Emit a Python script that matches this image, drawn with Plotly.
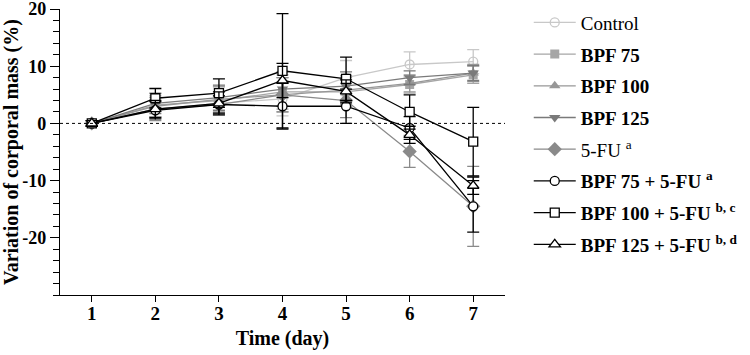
import plotly.graph_objects as go

days = [1, 2, 3, 4, 5, 6, 7]

series_names = [
    "Control",
    "<b>BPF 75</b>",
    "<b>BPF 100</b>",
    "<b>BPF 125</b>",
    "5-FU <sup>a</sup>",
    "<b>BPF 75 + 5-FU <sup>a</sup></b>",
    "<b>BPF 100 + 5-FU <sup>b, c</sup></b>",
    "<b>BPF 125 + 5-FU <sup>b, d</sup></b>",
]

control = [0, 2.5, 3.5, 4.3, 8.0, 10.3, 10.8]
control_err = [0.5, 1.5, 2.0, 3.0, 3.0, 2.2, 2.1]
bpf75 = [0, 3.2, 4.0, 5.5, 5.5, 6.8, 8.5]
bpf75_err = [0.5, 2.0, 2.5, 3.0, 2.5, 1.5, 1.5]
bpf100 = [0, 3.0, 4.2, 5.0, 5.8, 7.0, 8.8]
bpf100_err = [0.5, 1.8, 2.2, 3.0, 2.5, 1.5, 1.5]
bpf125 = [0, 3.5, 4.5, 6.0, 6.5, 8.0, 8.8]
bpf125_err = [0.5, 1.8, 2.2, 3.0, 2.5, 1.2, 1.3]
fu5 = [0, 2.5, 3.3, 5.0, 4.0, -4.9, -14.5]
fu5_err = [0.5, 2.0, 1.5, 3.0, 3.0, 2.8, 7.0]
bpf75_fu = [0, 2.3, 3.3, 3.0, 3.0, -0.8, -14.5]
bpf75_fu_err = [0.5, 1.5, 1.5, 4.0, 3.0, 2.0, 4.5]
bpf100_fu = [0, 4.4, 5.3, 9.2, 7.8, 2.0, -3.2]
bpf100_fu_err = [0.5, 1.7, 2.5, 10.0, 3.8, 3.0, 6.0]
bpf125_fu = [0, 2.5, 3.5, 7.5, 5.6, -2.0, -10.9]
bpf125_fu_err = [0.5, 1.5, 2.0, 3.0, 2.0, 1.5, 1.5]

values = [control, bpf75, bpf100, bpf125, fu5, bpf75_fu, bpf100_fu, bpf125_fu]
errors = [control_err, bpf75_err, bpf100_err, bpf125_err, fu5_err,
          bpf75_fu_err, bpf100_fu_err, bpf125_fu_err]
colors = ["#c8c8c8", "#a6a6a6", "#979797", "#7a7a7a", "#8a8a8a",
          "#000000", "#000000", "#000000"]
symbols = ["circle-open", "square", "triangle-up", "triangle-down", "diamond",
           "circle", "square", "triangle-up"]
fills = [None, None, None, None, None, "white", "white", "white"]
sizes = [9, 9, 10, 10, 11, 9, 9, 10]

FONT = "Liberation Serif"

fig = go.Figure()
for name, v, e, c, s, f, sz in zip(series_names, values, errors, colors, symbols, fills, sizes):
    marker = dict(symbol=s, size=sz, color=f if f else c,
                  line=dict(color=c, width=1.3))
    if f is None and s != "circle-open":
        marker["line"] = dict(color=c, width=0)
    fig.add_trace(go.Scatter(
        x=days, y=v, name=name, mode="lines+markers",
        line=dict(color=c, width=1.3),
        marker=marker,
        error_y=dict(type="data", array=e, visible=True, color=c,
                     thickness=1.3, width=6),
        legendgroup=name,
    ))

fig.add_hline(y=0, line=dict(color="black", width=1, dash="dot"))

fig.update_layout(
    width=750, height=355,
    margin=dict(l=60, r=245, t=9, b=57),
    paper_bgcolor="white", plot_bgcolor="white",
    font=dict(family=FONT, color="black"),
    showlegend=True,
    legend=dict(
        xref="container", yref="container",
        x=0.705, xanchor="left", y=0.99, yanchor="top",
        font=dict(family=FONT, size=19, color="black"),
        itemwidth=42, traceorder="grouped", tracegroupgap=4,
        bgcolor="rgba(0,0,0,0)", maxheight=1,
    ),
    xaxis=dict(
        range=[0.5, 7.5], tickvals=days, ticktext=["<b>%d</b>" % d for d in days],
        showgrid=False, zeroline=False, showline=True, linecolor="black",
        linewidth=1.3, ticks="outside", ticklen=6, tickwidth=1.3,
        tickcolor="black", automargin=True, ticklabelstandoff=-5,
        tickfont=dict(family=FONT, size=19),
        title=dict(text="<b>Time (day)</b>", font=dict(family=FONT, size=20),
                   standoff=8),
    ),
    yaxis=dict(
        range=[-30, 20], tickvals=[-20, -10, 0, 10, 20],
        ticktext=["<b>-20</b>", "<b>-10</b>", "<b>0</b>", "<b>10</b>", "<b>20</b>"],
        showgrid=False, zeroline=False, showline=True, linecolor="black",
        linewidth=1.3, ticks="outside", ticklen=9, tickwidth=1.3,
        tickcolor="black", automargin=False, ticklabeloverflow="allow",
        minor=dict(dtick=2, tick0=0, ticks="outside", ticklen=6, tickwidth=1.3,
                   tickcolor="black", showgrid=False),
        tickfont=dict(family=FONT, size=18),
        title=dict(text="<b>Variation of corporal mass (%)</b>",
                   font=dict(family=FONT, size=20)),
    ),
)

fig.write_html(
    "out.html",
    config={"displayModeBar": False},
    post_script="document.body.style.margin='0';document.body.style.overflow='hidden';",
)
